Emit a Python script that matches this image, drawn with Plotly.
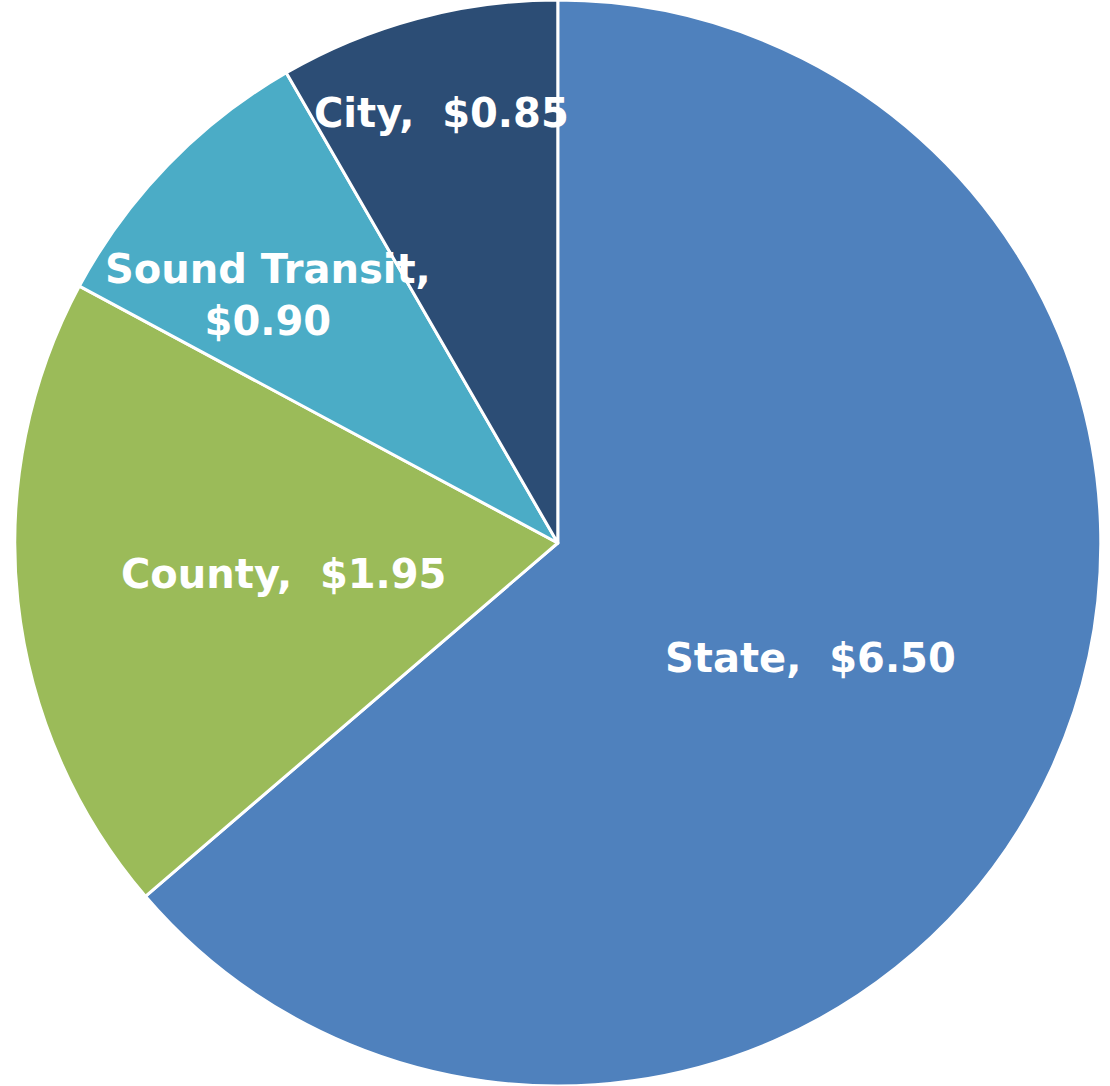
import plotly.graph_objects as go

# sales tax split per $10.20
labels = ["State", "County", "Sound Transit", "City"]
values = [6.50, 1.95, 0.90, 0.85]
colors = ["#4F81BD", "#9BBB59", "#4BACC6", "#2C4D75"]
label_text = ["State,  $6.50", "County,  $1.95", "Sound Transit,<br>$0.90", "City,  $0.85"]
label_pos = [(0.730, 0.394), (0.255, 0.471), (0.241, 0.728), (0.398, 0.896)]

fig = go.Figure(go.Pie(
    labels=labels,
    values=values,
    sort=False,
    direction="clockwise",
    rotation=0,
    marker=dict(colors=colors, line=dict(color="white", width=3)),
    textinfo="none",
    hoverinfo="label+value",
    showlegend=False,
    domain=dict(x=[0.005, 1], y=[0, 1]),
))

for txt, (x, y) in zip(label_text, label_pos):
    fig.add_annotation(
        x=x, y=y, xref="paper", yref="paper",
        text=txt, showarrow=False,
        font=dict(family="DejaVu Sans", size=40, color="white", weight="bold"),
        xanchor="center", yanchor="middle",
    )

fig.update_layout(
    width=1110, height=1086,
    margin=dict(l=0, r=0, t=0, b=0),
    paper_bgcolor="white",
)

# drop the browser's default body margin so the figure fills the window
fig.write_html(
    "out.html",
    config={"displayModeBar": False},
    post_script="document.body.style.margin='0';document.body.style.overflow='hidden';",
)
